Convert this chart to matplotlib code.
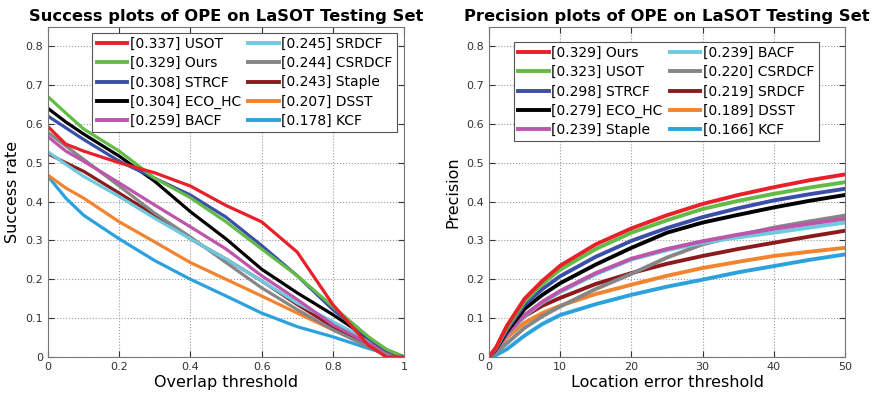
import numpy as np
import matplotlib
matplotlib.use("Agg")
import matplotlib.pyplot as plt

# ---- success plot data (overlap threshold) ----
succ_x = [0, 0.05, 0.1, 0.2, 0.3, 0.4, 0.5, 0.6, 0.7, 0.8, 0.9, 0.95, 1.0]
succ_names = ["[0.337] USOT", "[0.329] Ours", "[0.308] STRCF", "[0.304] ECO_HC",
              "[0.259] BACF", "[0.245] SRDCF", "[0.244] CSRDCF", "[0.243] Staple",
              "[0.207] DSST", "[0.178] KCF"]
succ_usot = [0.593, 0.548, 0.530, 0.500, 0.474, 0.440, 0.390, 0.348, 0.270, 0.135, 0.030, 0.0, 0.0]
succ_ours = [0.670, 0.628, 0.587, 0.530, 0.460, 0.410, 0.348, 0.278, 0.209, 0.130, 0.052, 0.020, 0.0]
succ_strcf = [0.620, 0.590, 0.560, 0.504, 0.460, 0.417, 0.360, 0.287, 0.209, 0.122, 0.048, 0.018, 0.0]
succ_eco = [0.640, 0.605, 0.574, 0.517, 0.452, 0.374, 0.304, 0.226, 0.165, 0.109, 0.048, 0.018, 0.0]
succ_bacf = [0.567, 0.530, 0.504, 0.448, 0.391, 0.335, 0.278, 0.209, 0.148, 0.083, 0.035, 0.015, 0.0]
succ_srdcf = [0.528, 0.496, 0.465, 0.413, 0.357, 0.304, 0.252, 0.196, 0.139, 0.091, 0.043, 0.018, 0.0]
succ_csrdcf = [0.578, 0.543, 0.509, 0.440, 0.370, 0.309, 0.243, 0.178, 0.122, 0.070, 0.026, 0.010, 0.0]
succ_staple = [0.523, 0.500, 0.478, 0.422, 0.365, 0.304, 0.252, 0.196, 0.135, 0.078, 0.030, 0.012, 0.0]
succ_dsst = [0.468, 0.435, 0.409, 0.348, 0.296, 0.243, 0.200, 0.157, 0.113, 0.070, 0.030, 0.012, 0.0]
succ_kcf = [0.465, 0.409, 0.365, 0.304, 0.248, 0.200, 0.157, 0.113, 0.078, 0.052, 0.022, 0.008, 0.0]

# ---- precision plot data (location error threshold) ----
prec_x = [0, 1, 2.5, 5, 7.5, 10, 15, 20, 25, 30, 35, 40, 45, 50]
prec_names = ["[0.329] Ours", "[0.323] USOT", "[0.298] STRCF", "[0.279] ECO_HC",
              "[0.239] Staple", "[0.239] BACF", "[0.220] CSRDCF", "[0.219] SRDCF",
              "[0.189] DSST", "[0.166] KCF"]
prec_ours = [0.0, 0.025, 0.080, 0.150, 0.196, 0.235, 0.290, 0.331, 0.365, 0.394, 0.417, 0.437, 0.455, 0.470]
prec_usot = [0.0, 0.023, 0.075, 0.143, 0.188, 0.225, 0.278, 0.320, 0.352, 0.381, 0.402, 0.420, 0.436, 0.450]
prec_strcf = [0.0, 0.022, 0.070, 0.135, 0.175, 0.208, 0.258, 0.299, 0.332, 0.360, 0.383, 0.403, 0.419, 0.433]
prec_eco = [0.0, 0.020, 0.065, 0.124, 0.160, 0.190, 0.238, 0.281, 0.320, 0.346, 0.366, 0.385, 0.402, 0.417]
prec_staple = [0.0, 0.018, 0.058, 0.108, 0.142, 0.170, 0.216, 0.253, 0.278, 0.298, 0.315, 0.330, 0.343, 0.356]
prec_bacf = [0.0, 0.018, 0.056, 0.106, 0.140, 0.167, 0.213, 0.251, 0.275, 0.294, 0.308, 0.320, 0.333, 0.346]
prec_csrdcf = [0.0, 0.012, 0.035, 0.075, 0.105, 0.130, 0.175, 0.214, 0.256, 0.290, 0.313, 0.333, 0.349, 0.364]
prec_srdcf = [0.0, 0.018, 0.058, 0.105, 0.132, 0.152, 0.188, 0.216, 0.240, 0.260, 0.278, 0.294, 0.310, 0.325]
prec_dsst = [0.0, 0.016, 0.050, 0.088, 0.113, 0.132, 0.162, 0.186, 0.209, 0.229, 0.245, 0.260, 0.271, 0.281]
prec_kcf = [0.0, 0.005, 0.020, 0.055, 0.085, 0.108, 0.136, 0.160, 0.181, 0.199, 0.218, 0.234, 0.250, 0.264]

C_RED = "#e8202a"
C_GREEN = "#63bb45"
C_BLUE = "#3b4fa8"
C_BLACK = "#000000"
C_MAGENTA = "#bd55aa"
C_CYAN = "#6dcbe0"
C_GRAY = "#868686"
C_DRED = "#8c1a1c"
C_ORANGE = "#f28430"
C_KCF = "#2ba2dd"

succ_series = [succ_usot, succ_ours, succ_strcf, succ_eco, succ_bacf,
               succ_srdcf, succ_csrdcf, succ_staple, succ_dsst, succ_kcf]
succ_colors = [C_RED, C_GREEN, C_BLUE, C_BLACK, C_MAGENTA,
               C_CYAN, C_GRAY, C_DRED, C_ORANGE, C_KCF]
prec_series = [prec_ours, prec_usot, prec_strcf, prec_eco, prec_staple,
               prec_bacf, prec_csrdcf, prec_srdcf, prec_dsst, prec_kcf]
prec_colors = [C_RED, C_GREEN, C_BLUE, C_BLACK, C_MAGENTA,
               C_CYAN, C_GRAY, C_DRED, C_ORANGE, C_KCF]

fig = plt.figure(figsize=(8.77, 3.94), dpi=100)
ax1 = fig.add_axes([0.0547, 0.094, 0.406, 0.838])
ax2 = fig.add_axes([0.5576, 0.094, 0.406, 0.838])


def style_axes(ax):
    ax.grid(True, linestyle=":", color="#9a9a9a", linewidth=0.8)
    ax.tick_params(direction="in", top=True, right=True, labelsize=8,
                   colors="#333333", length=4)
    for s in ax.spines.values():
        s.set_color("#777777")
        s.set_linewidth(0.8)
    ax.set_ylim(0, 0.85)
    ax.set_yticks(np.arange(0, 0.81, 0.1))
    ax.set_yticklabels(["0", "0.1", "0.2", "0.3", "0.4", "0.5", "0.6", "0.7", "0.8"])


def make_legend(ax, colors, names, loc, anchor):
    handles = [plt.Line2D([], [], color=c, lw=2.8) for c in colors]
    leg = ax.legend(handles, names, ncol=2, loc=loc, fontsize=10,
                    bbox_to_anchor=anchor, frameon=True, fancybox=False,
                    handlelength=2.2, handletextpad=0.2, columnspacing=0.5,
                    labelspacing=0.38, borderpad=0.3, borderaxespad=0)
    leg.get_frame().set_edgecolor("#555555")
    leg.get_frame().set_linewidth(0.8)
    leg.get_frame().set_alpha(1)
    return leg


# 成功率图
for ys, c in zip(succ_series[::-1], succ_colors[::-1]):
    ax1.plot(succ_x, ys, color=c, lw=2.3)
style_axes(ax1)
ax1.set_xlim(0, 1)
ax1.set_xticks([0, 0.2, 0.4, 0.6, 0.8, 1])
ax1.set_xticklabels(["0", "0.2", "0.4", "0.6", "0.8", "1"])
ax1.set_title("Success plots of OPE on LaSOT Testing Set", fontsize=11.8,
              fontweight="bold", pad=4)
ax1.set_xlabel("Overlap threshold", fontsize=11.5, labelpad=2)
ax1.set_ylabel("Success rate", fontsize=11.5, labelpad=4)
make_legend(ax1, succ_colors, succ_names, "upper right", (0.98, 0.982))

# 精度图
for ys, c in zip(prec_series[::-1], prec_colors[::-1]):
    ax2.plot(prec_x, ys, color=c, lw=2.8)
style_axes(ax2)
ax2.set_xlim(0, 50)
ax2.set_xticks([0, 10, 20, 30, 40, 50])
ax2.set_title("Precision plots of OPE on LaSOT Testing Set", fontsize=11.8,
              fontweight="bold", pad=4)
ax2.set_xlabel("Location error threshold", fontsize=11.5, labelpad=2)
ax2.set_ylabel("Precision", fontsize=11.5, labelpad=4)
make_legend(ax2, prec_colors, prec_names, "upper left", (0.07, 0.955))

fig.savefig("out.png", dpi=100)
plt.close(fig)
